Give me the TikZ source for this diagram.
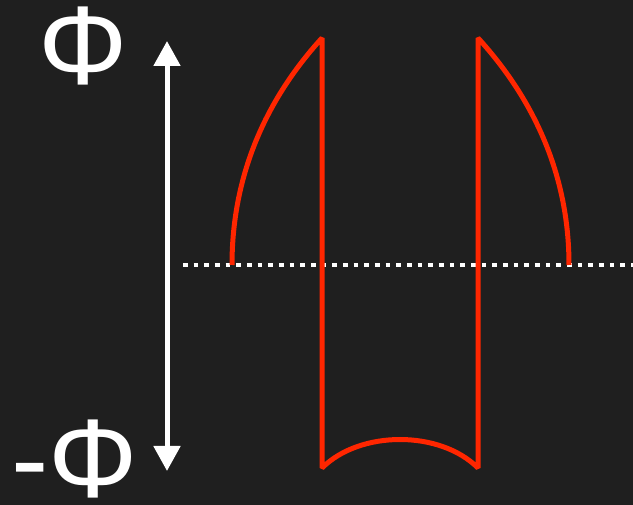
\documentclass[tikz,border=0pt]{standalone}
\usepackage{fontspec}
\setmainfont{Liberation Sans}
\usetikzlibrary{arrows.meta}
\definecolor{bgdark}{RGB}{31,31,31}
\definecolor{fluxred}{RGB}{255,38,0}
\tikzset{
    fluxlbl/.style={font=\fontsize{112}{112}\selectfont, text=white, inner sep=0pt, anchor=center},
    fluxarr/.style={{Triangle[length=25pt, width=26pt]}-{Triangle[length=25pt, width=26pt]}, white, line width=5pt},
    zeroline/.style={white, line width=4.6pt, dash pattern=on 4.6pt off 6.07pt},
    wave/.style={fluxred, line width=5pt, line join=bevel}
}
\begin{document}
\begin{tikzpicture}[x=1pt, y=-1pt]
    % Background
    \fill[bgdark] (0,0) rectangle (633,505);
    \useasboundingbox (0,0) rectangle (633,505);

    % Labels and amplitude arrow
    \node[fluxlbl] (phimax) at (83,46) {Φ};
    \node[fluxlbl] (phimin) at (75,459) {-Φ};
    \coordinate (arrtop) at (167,41);
    \coordinate (arrbot) at (167,471);
    \draw[fluxarr] (arrtop) -- (arrbot);

    % Zero level
    \coordinate (zl) at (183,265);
    \coordinate (zr) at (640,265);
    \draw[zeroline] (zl) -- (zr);

    % Flux waveform
    \draw[wave] (232,265) .. controls (232,170) and (270,95) .. (322,38)
        -- (322,468) .. controls (360,430) and (440,430) .. (478,468)
        -- (478,38) .. controls (530,95) and (569,170) .. (569,265);
\end{tikzpicture}
\end{document}
